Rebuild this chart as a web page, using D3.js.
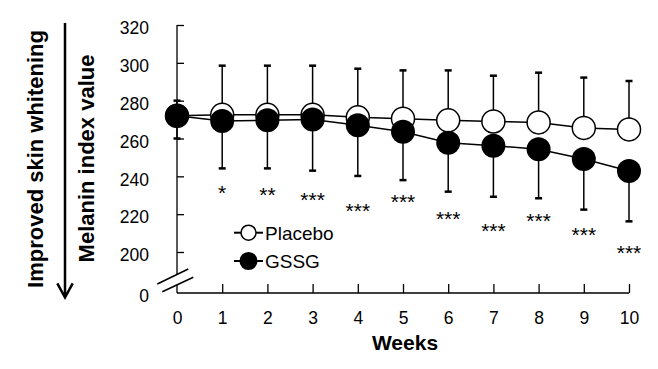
<!DOCTYPE html>
<html><head><meta charset="utf-8">
<script src="https://cdn.jsdelivr.net/npm/d3@7"></script>
<style>body{margin:0;background:#fff}svg{display:block}text{font-family:"Liberation Sans",Arial,sans-serif;fill:#000}</style>
</head><body>
<svg id="c" width="658" height="369"></svg>
<script>
const weeks = [0,1,2,3,4,5,6,7,8,9,10];
const placebo = [272, 272.5, 272.5, 272.5, 271.2, 270.5, 269.6, 269, 268.5, 265.6, 264.8];
const placeboSD = [8, 26, 26, 26, 25.7, 25.5, 26.4, 24.2, 26.3, 26.6, 25.6];
const gssg = [272, 269.3, 269.6, 270, 267, 263.6, 257.8, 256.2, 254.3, 249.2, 242.8];
const gssgSD = [12, 25.1, 25.4, 27, 26.8, 25.6, 25.9, 27, 25.9, 26.8, 26.6];
const sigLabels = ["", "*", "**", "***", "***", "***", "***", "***", "***", "***", "***"];
const sigLevel = [null, 233.8, 232.8, 230.1, 224.3, 229.1, 220.1, 213.7, 219, 211.6, 202.1];
const yTicks = [0, 200, 220, 240, 260, 280, 300, 320];
const seriesNames = ["Placebo", "GSSG"];

const svg = d3.select("#c");
const x = d3.scaleLinear().domain([0,10]).range([177,629]);
const y = d3.scaleLinear().domain([0,200,320]).range([293,252,25]);

// Y axis ticks (inward), domain drawn manually with break
const ya = svg.append("g").attr("transform","translate(177,0)")
  .call(d3.axisLeft(y).tickValues(yTicks).tickSize(-7).tickPadding(28).tickFormat(d3.format("d")));
ya.select(".domain").remove();
ya.selectAll("line").attr("stroke","#000").attr("stroke-width",1.3);
ya.selectAll("text").attr("font-size",17.5).attr("dy","0.5em").style("font-family","Liberation Sans, Arial, sans-serif");
ya.selectAll(".tick").filter(d=>d===0).select("line").remove();

// x axis
const xa = svg.append("g").attr("transform","translate(0,293)")
  .call(d3.axisBottom(x).tickValues(weeks).tickSize(-9).tickPadding(19).tickFormat(d3.format("d")));
xa.select(".domain").attr("d", `M${x(0)},0H${x(10)}`).attr("stroke","#000").attr("stroke-width",1.3);
xa.selectAll("line").attr("stroke","#000").attr("stroke-width",1.3);
xa.selectAll("text").attr("font-size",17.5).style("font-family","Liberation Sans, Arial, sans-serif");
xa.selectAll(".tick").filter(d=>d===0).select("line").remove();

// y domain with break
const x0 = x(0), yb = y(0);
svg.append("path").attr("d",`M${x0},${y(320)}V${yb-18.5}M${x0},${yb-8}V${yb}`)
  .attr("stroke","#000").attr("stroke-width",1.3).attr("fill","none");
svg.append("path").attr("d",`M${x0-19.7},${yb-9}L${x0+11.3},${yb-24}M${x0-14.7},${yb-1.3}L${x0+16.3},${yb-15.7}`)
  .attr("stroke","#000").attr("stroke-width",1.5);

// error bars
const capW = 3.5;
function ebar(means, sds, dir){
  const g = svg.append("g");
  weeks.forEach((w,i)=>{
    const end = means[i] + dir*sds[i];
    g.append("line").attr("x1",x(w)).attr("x2",x(w)).attr("y1",y(means[i])).attr("y2",y(end))
      .attr("stroke","#000").attr("stroke-width",1.5);
    g.append("line").attr("x1",x(w)-capW).attr("x2",x(w)+capW).attr("y1",y(end)).attr("y2",y(end))
      .attr("stroke","#000").attr("stroke-width",2.5);
  });
}
ebar(placebo, placeboSD, 1);
ebar(gssg, gssgSD, -1);

// lines
const line = d3.line().x((d,i)=>x(weeks[i])).y(d=>y(d));
svg.append("path").datum(placebo).attr("d",line).attr("fill","none").attr("stroke","#000").attr("stroke-width",1.5);
svg.append("path").datum(gssg).attr("d",line).attr("fill","none").attr("stroke","#000").attr("stroke-width",1.5);

// markers
svg.append("g").selectAll("circle").data(placebo).join("circle")
  .attr("cx",(d,i)=>x(weeks[i])).attr("cy",d=>y(d)).attr("r",11.5)
  .attr("fill","#fff").attr("stroke","#000").attr("stroke-width",1.5);
svg.append("g").selectAll("circle").data(gssg).join("circle")
  .attr("cx",(d,i)=>x(weeks[i])).attr("cy",d=>y(d)).attr("r",12)
  .attr("fill","#000");

// significance stars
const sigIdx = weeks.map((w,i)=>i).filter(i=>sigLevel[i]!==null);
svg.append("g").selectAll("text").data(sigIdx).join("text")
  .attr("x",i=>x(weeks[i])).attr("y",i=>y(sigLevel[i])+12)
  .attr("text-anchor","middle").attr("font-size",21).text(i=>sigLabels[i]);

// legend
const lg = svg.append("g");
const legY = [232.7, 261];
seriesNames.forEach((n,i)=>{
  lg.append("line").attr("x1",234).attr("x2",263).attr("y1",legY[i]).attr("y2",legY[i]).attr("stroke","#000").attr("stroke-width",2);
  lg.append("circle").attr("cx",248.5).attr("cy",legY[i]).attr("r",i===0?7.5:8.3)
    .attr("fill",i===0?"#fff":"#000").attr("stroke","#000").attr("stroke-width",1.5);
  lg.append("text").attr("x",265).attr("y",legY[i]+6.8).attr("font-size",19).text(n);
});

// axis titles
svg.append("text").attr("x",405).attr("y",350).attr("text-anchor","middle")
  .attr("font-size",21).attr("font-weight","bold").text("Weeks");
svg.append("text").attr("transform","translate(94,158.5) rotate(-90)").attr("text-anchor","middle")
  .attr("font-size",22).attr("font-weight","bold").text("Melanin index value");
svg.append("text").attr("transform","translate(42.5,159) rotate(-90)").attr("text-anchor","middle")
  .attr("font-size",22).attr("font-weight","bold").text("Improved skin whitening");

// arrow
svg.append("path").attr("d","M65,23V297.5M57.3,283.3L65,297.5L72.7,283.3")
  .attr("stroke","#000").attr("stroke-width",2.5).attr("fill","none");
</script>
</body></html>
